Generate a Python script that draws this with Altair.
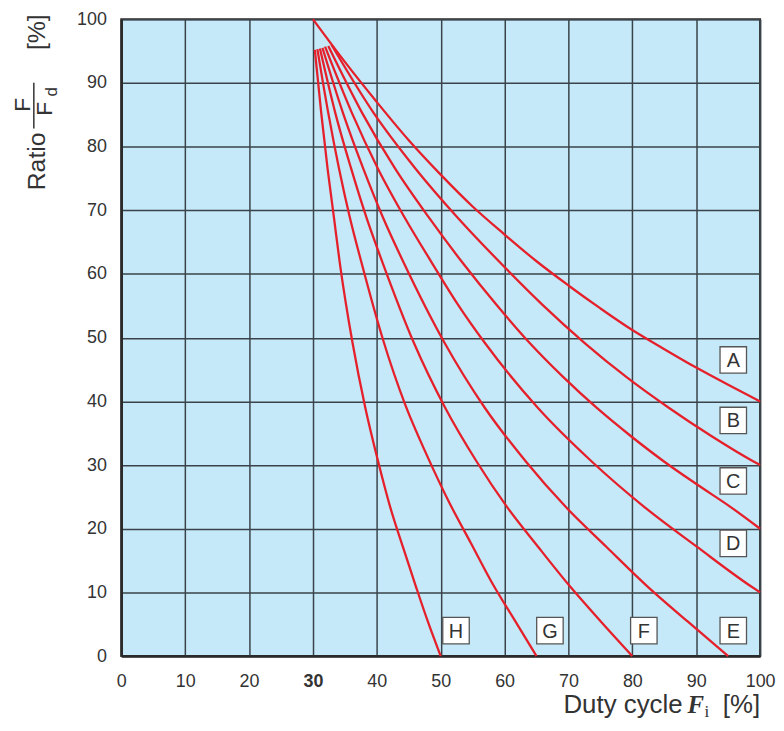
import altair as alt
import pandas as pd

# ---- data ----
curve_names = ["A", "B", "C", "D", "E", "F", "G", "H"]

a_x = [30, 35, 40, 45, 50, 55, 60, 65, 70, 75, 80, 85, 90, 95, 100]
a_y = [100, 93.3, 87, 81, 75.6, 70.6, 66.2, 62, 58.2, 54.6, 51.2, 48.2, 45.3, 42.6, 40]

b_x = [32.9, 39.5, 46.1, 52.7, 59.3, 65.9, 72.5, 79.1, 85.7, 92.3, 98.9, 100]
b_y = [96.0, 85.3, 76.5, 68.8, 61.8, 55.2, 49.2, 43.8, 39.0, 34.6, 30.6, 30.0]

c_x = [32.4, 37.7, 42.9, 48.2, 53.4, 58.7, 63.9, 69.2, 74.4, 79.7, 84.9, 90.2, 95.4, 100]
c_y = [95.8, 85.3, 76.5, 68.8, 61.8, 55.2, 49.2, 43.8, 39.0, 34.6, 30.6, 26.9, 23.4, 20.0]

d_x = [31.9, 36.1, 40.2, 44.4, 48.6, 52.7, 56.9, 65.2, 73.6, 81.9, 90.2, 98.5, 100]
d_y = [95.7, 85.3, 76.5, 68.8, 61.8, 55.2, 49.2, 39.0, 30.6, 23.4, 17.1, 11.0, 10.0]

e_x = [31.5, 34.7, 37.9, 41.0, 44.2, 50.6, 56.9, 63.3, 69.6, 76.0, 82.3, 88.7, 95.0]
e_y = [95.5, 85.3, 76.5, 68.8, 61.8, 49.2, 39.0, 30.6, 23.4, 17.1, 11.0, 5.4, 0]

f_x = [31.1, 33.5, 36.0, 38.4, 40.9, 45.8, 50.7, 55.6, 60.4, 65.3, 70.2, 75.1, 80.0]
f_y = [95.4, 85.3, 76.5, 68.8, 61.8, 49.2, 39.0, 30.6, 23.4, 17.1, 11.0, 5.4, 0]

g_x = [30.7, 32.4, 34.1, 35.8, 37.6, 41.0, 44.4, 47.9, 51.3, 54.7, 58.1, 61.6, 65.0]
g_y = [95.3, 85.3, 76.5, 68.8, 61.8, 49.6, 39.6, 31.4, 24.2, 17.8, 11.4, 5.6, 0]

h_x = [30.3, 31.3, 32.3, 33.3, 34.2, 36.2, 38.2, 40.2, 42.1, 44.1, 46.1, 48.0, 50.0]
h_y = [95.2, 85.3, 76.5, 68.8, 61.8, 49.2, 39.0, 30.6, 23.4, 17.1, 11.0, 5.4, 0]

label_x = [95.8, 95.8, 95.8, 95.8, 95.8, 81.8, 67.1, 52.4]
label_y = [46.5, 37.0, 27.5, 17.7, 4.0, 4.0, 4.0, 4.0]

x_ticks = [0, 10, 20, 30, 40, 50, 60, 70, 80, 90, 100]
y_ticks = [0, 10, 20, 30, 40, 50, 60, 70, 80, 90, 100]

# ---- build tables ----
series = {
    "A": (a_x, a_y), "B": (b_x, b_y), "C": (c_x, c_y), "D": (d_x, d_y),
    "E": (e_x, e_y), "F": (f_x, f_y), "G": (g_x, g_y), "H": (h_x, h_y),
}
rows = []
for name in curve_names:
    xs, ys = series[name]
    for i, (xv, yv) in enumerate(zip(xs, ys)):
        rows.append({"curve": name, "x": xv, "y": yv, "order": i})
lines_df = pd.DataFrame(rows)
labels_df = pd.DataFrame({"label": curve_names, "x": label_x, "y": label_y})
one = pd.DataFrame({"a": [0]})

FONT = "Liberation Sans"
TXT = "#333333"
W, H = 643, 641

xscale = alt.Scale(domain=[0, 100], nice=False)
yscale = alt.Scale(domain=[0, 100], nice=False)

xaxis = alt.Axis(values=x_ticks, title=None, grid=True, ticks=False,
                 labelFont=FONT, labelFontSize=18, labelColor=TXT,
                 labelPadding=17, labelFlush=False,
                 labelFontWeight=alt.condition("datum.value == 30", alt.value("bold"), alt.value("normal")),
                 domainColor="#2a2a2a", domainWidth=2.5,
                 gridColor="#3a4349", gridWidth=1.5, gridOpacity=1)
yaxis = alt.Axis(values=y_ticks, title=None, grid=True, ticks=False,
                 labelFont=FONT, labelFontSize=18, labelColor=TXT,
                 labelPadding=15, labelFlush=False,
                 domainColor="#2a2a2a", domainWidth=2.5,
                 gridColor="#3a4349", gridWidth=1.5, gridOpacity=1)

lines = alt.Chart(lines_df).mark_line(color="#E5202B", strokeWidth=2.3,
                                      interpolate="monotone").encode(
    x=alt.X("x:Q", scale=xscale, axis=xaxis),
    y=alt.Y("y:Q", scale=yscale, axis=yaxis),
    detail="curve:N",
    order="order:Q",
)

boxes = alt.Chart(labels_df).mark_square(size=710, filled=True, fill="white",
                                         stroke="#555555", strokeWidth=1.3,
                                         opacity=1).encode(
    x=alt.X("x:Q", scale=xscale), y=alt.Y("y:Q", scale=yscale))

box_text = alt.Chart(labels_df).mark_text(font=FONT, fontSize=20, color=TXT,
                                          baseline="middle", dy=1).encode(
    x=alt.X("x:Q", scale=xscale), y=alt.Y("y:Q", scale=yscale), text="label:N")


def txt(s, x, y, size=25, angle=0, align="center", baseline="middle",
        font=FONT, weight="normal", style="normal"):
    return alt.Chart(one).mark_text(fontSize=size, angle=angle, align=align,
                                    baseline=baseline, font=font,
                                    fontWeight=weight, fontStyle=style,
                                    color=TXT).encode(
        x=alt.value(x), y=alt.value(y), text=alt.value(s))


# y title pieces (rotated)
y_ratio = txt("Ratio", -85, 143, angle=270)
y_num = txt("F", -99, 86, size=23, angle=270)
y_bar = alt.Chart(one).mark_rule(color=TXT, strokeWidth=1.5).encode(
    x=alt.value(-88), y=alt.value(64), y2=alt.value(110))
y_den = txt("F", -77, 90, size=23, angle=270)
y_sub = txt("d", -70, 73, size=17, angle=270)
y_pct = txt("[%]", -85, 13, angle=270)

# x title pieces
x_duty = txt("Duty cycle", 565, 698, size=26, align="right", baseline="alphabetic")
x_f = txt("F", 570, 698, align="left", baseline="alphabetic",
          font="Liberation Serif", weight="bold", style="italic")
x_i = txt("i", 587, 702, size=17, align="left", baseline="alphabetic",
          font="Liberation Serif")
x_pct = txt("[%]", 643, 698, size=26, align="right", baseline="alphabetic")

chart = alt.layer(
    lines, boxes, box_text,
    y_ratio, y_num, y_bar, y_den, y_sub, y_pct,
    x_duty, x_f, x_i, x_pct,
).properties(
    width=W, height=H,
    autosize=alt.AutoSizeParams(type="none"),
    padding={"left": 114, "top": 9, "right": 16, "bottom": 65},
).configure_view(
    fill="#C5E9F8", stroke="#2a2a2a", strokeWidth=2,
)

chart.save("out.html", embed_options={"renderer": "svg", "actions": False})
